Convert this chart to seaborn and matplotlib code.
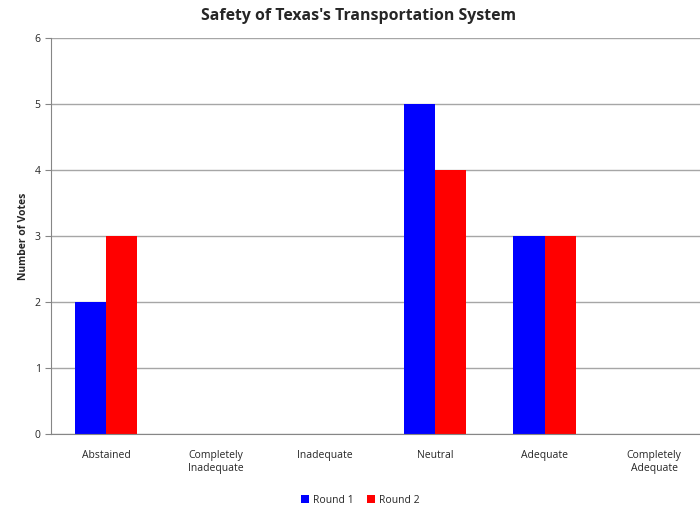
import pandas as pd
import matplotlib.pyplot as plt
import seaborn as sns

# Datos
categorias = ['Abstained', 'Completely\nInadequate', 'Inadequate', 'Neutral',
              'Adequate', 'Completely\nAdequate']
ronda_1 = [2, 0, 0, 5, 3, 0]
ronda_2 = [3, 0, 0, 4, 3, 0]
series = ['Round 1', 'Round 2']
colores = {'Round 1': '#0000FF', 'Round 2': '#FF0000'}

df = pd.DataFrame({
    'Categoria': categorias * 2,
    'Votos': ronda_1 + ronda_2,
    'Serie': [series[0]] * len(categorias) + [series[1]] * len(categorias),
})

sns.set_style('white')
plt.rcParams['font.family'] = ['Open Sans', 'DejaVu Sans']

fig = plt.figure(figsize=(7, 5.08), dpi=100)
# el eje x se sale un poco por la derecha, como en el original
ax = fig.add_axes([0.073, 0.146, 0.94, 0.779])

sns.barplot(data=df, x='Categoria', y='Votos', hue='Serie', palette=colores,
            width=0.57, saturation=1, linewidth=0, ax=ax, legend=True)

ax.set_ylim(0, 6)
ax.set_xlim(-0.5, 5.5)
ax.set_yticks(range(0, 7))
ax.yaxis.grid(True, color='#A6A6A6', linewidth=1)
ax.set_axisbelow(True)
for lado in ['top', 'right']:
    ax.spines[lado].set_visible(False)
for lado in ['left', 'bottom']:
    ax.spines[lado].set_color('#868686')
ax.set_xticks([i - 0.5 for i in range(7)], minor=True)
ax.tick_params(axis='x', which='major', length=0, pad=12, labelsize=7.5)
ax.tick_params(axis='x', which='minor', length=4, color='#868686', direction='out')
ax.tick_params(axis='y', length=4, color='#868686', direction='out', labelsize=7.5,
               left=True)
ax.set_xlabel('')
ax.set_ylabel('Number of Votes', fontsize=7.5, fontweight='bold')
fig.suptitle("Safety of Texas's Transportation System", x=0.512, y=0.985,
             fontsize=11.4, fontweight='bold')

ax.legend(loc='upper center', bbox_to_anchor=(0.47, -0.13), ncol=2, frameon=False,
          fontsize=7.5, handlelength=0.8, handleheight=0.8, columnspacing=1.2,
          handletextpad=0.4)

plt.savefig('out.png', dpi=100)
plt.close()
